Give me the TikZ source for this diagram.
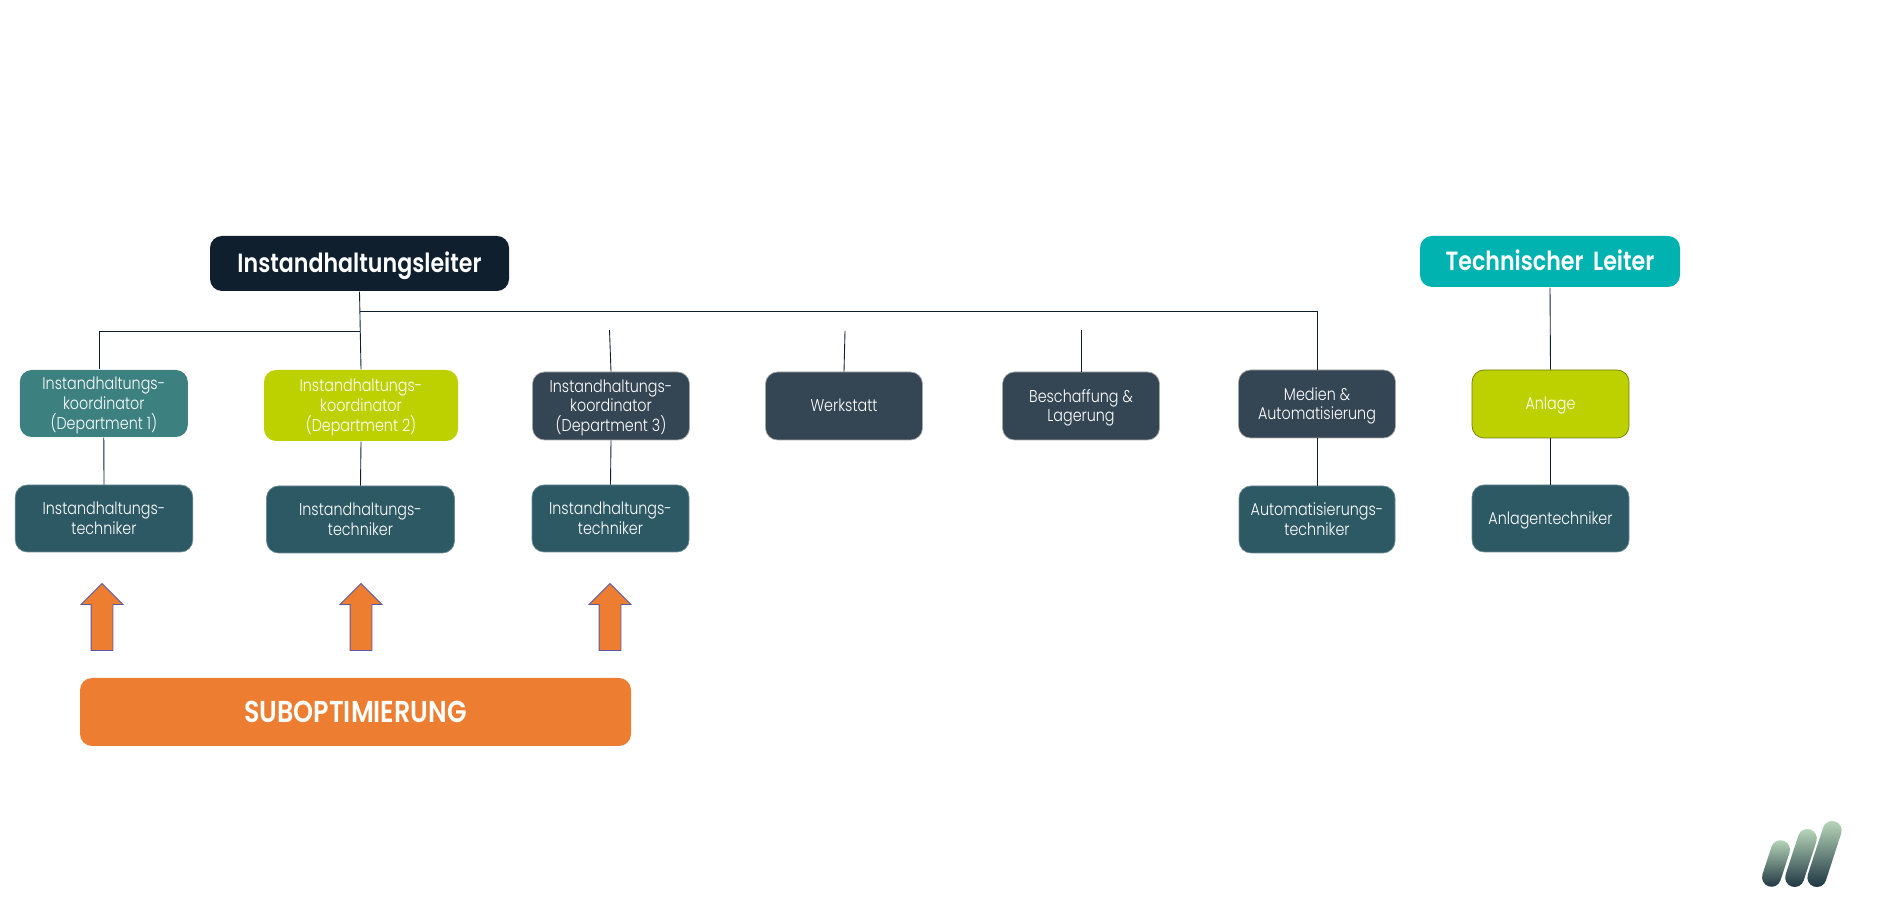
\documentclass[tikz,border=0pt]{standalone}
\usepackage{fontspec}
\setmainfont{Poppins}[FakeStretch=0.84,UprightFont=* Light,BoldFont=* SemiBold]
\usepackage{xcolor}
\usetikzlibrary{shapes,arrows,positioning,calc}
\definecolor{leiterblue}{HTML}{0F1F2E}
\definecolor{koordteal}{HTML}{3C8080}
\definecolor{lime}{HTML}{BDD000}
\definecolor{slate}{HTML}{344554}
\definecolor{techteal}{HTML}{2D5964}
\definecolor{cyanbox}{HTML}{00B2B0}
\definecolor{subopt}{HTML}{ED7D31}
\newcommand{\firstln}{\rule{0pt}{1em}}

\begin{document}
\begin{tikzpicture}[
    box/.style={rounded corners=0.12cm, align=center, text=white, inner sep=0pt, font=\fontsize{4.85}{5.65}\selectfont, execute at begin node={\rule{0pt}{.95em}}, execute at end node={\rule[-.3em]{0pt}{.3em}}},
    unit/.style={box, fill=slate, draw=gray!70, line width=0.2pt, minimum width=1.57cm, minimum height=0.68cm},
    tech/.style={box, fill=techteal, draw=techteal!70, line width=0.2pt, minimum height=0.67cm},
    head/.style={box, font=\fontsize{7.5}{8}\selectfont\bfseries, minimum height=0.55cm, execute at begin node={\rule{0pt}{.99em}}},
    link/.style={line width=0.25pt, draw=leiterblue},
    uparrow/.style={single arrow, draw=blue!30!gray, line width=0.25pt, fill=subopt, rotate=90, minimum height=0.67cm, single arrow head extend=0.10cm, inner xsep=0pt, inner ysep=0.105cm},
    pill/.style={rounded corners=0.095cm, minimum width=0.19cm, inner sep=0pt, rotate=-18, top color=green!30!gray!40, middle color=techteal!75!black, bottom color=leiterblue!70!techteal}
]
    \useasboundingbox (0,0) rectangle (18.82,9.15);

    % Top level
    \node[head, fill=leiterblue, minimum width=2.99cm] (leiter) at (3.595,6.515) {Instandhaltungsleiter};
    \node[head, fill=cyanbox, minimum width=2.60cm, minimum height=0.51cm] (techleiter) at (15.50,6.535) {Technischer \,Leiter};

    % Second row
    \node[box, fill=koordteal, minimum width=1.68cm, minimum height=0.67cm] (koord1) at (1.038,5.115) {\firstln Instandhaltungs-\\koordinator\\(Department 1)};
    \node[box, fill=lime, minimum width=1.94cm, minimum height=0.71cm] (koord2) at (3.61,5.095) {\firstln Instandhaltungs-\\koordinator\\(Department 2)};
    \node[unit] (koord3) at (6.11,5.09) {\firstln Instandhaltungs-\\koordinator\\(Department 3)};
    \node[unit] (werkstatt) at (8.44,5.09) {Werkstatt};
    \node[unit] (beschaffung) at (10.81,5.09) {\firstln Beschaffung \&\\Lagerung};
    \node[unit] (medien) at (13.17,5.11) {\firstln Medien \&\\Automatisierung};
    \node[unit, fill=lime, draw=lime!60!black] (anlage) at (15.505,5.11) {Anlage};

    % Third row
    \node[tech, minimum width=1.775cm] (tech1) at (1.04,3.965) {\firstln Instandhaltungs-\\techniker};
    \node[tech, minimum width=1.88cm] (tech2) at (3.605,3.955) {\firstln Instandhaltungs-\\techniker};
    \node[tech, minimum width=1.57cm] (tech3) at (6.105,3.965) {\firstln Instandhaltungs-\\techniker};
    \node[tech, minimum width=1.56cm] (autotech) at (13.17,3.955) {\firstln Automatisierungs-\\techniker};
    \node[tech, minimum width=1.57cm] (anlagetech) at (15.505,3.965) {Anlagentechniker};

    % Free ends of the short lines
    \coordinate (stub3) at (6.095,5.85);
    \coordinate (stubw) at (8.45,5.84);
    \coordinate (stubb) at (10.81,5.85);

    % Lines
    \draw[link] (leiter.south) -- (koord2.north);
    \draw[link] (leiter.south) ++(0,-0.40) -| ([xshift=-0.04cm]koord1.north);
    \draw[link] (leiter.south) ++(0,-0.20) -| (medien.north);
    \draw[link] (stub3) -- (koord3.north);
    \draw[link] (stubw) -- (werkstatt.north);
    \draw[link] (stubb) -- (beschaffung.north);
    \draw[link] (techleiter.south) -- (anlage.north);
    \draw[link] (koord1.south) -- (tech1.north);
    \draw[link] (koord2.south) -- (tech2.north);
    \draw[link] (koord3.south) -- (tech3.north);
    \draw[link] (medien.south) -- (autotech.north);
    \draw[link] (anlage.south) -- (anlagetech.north);

    % Arrows and bar
    \node[uparrow] (pfeil1) at (1.02,2.925) {};
    \node[uparrow] (pfeil2) at (3.61,2.925) {};
    \node[uparrow] (pfeil3) at (6.10,2.925) {};
    \node[box, fill=subopt, font=\fontsize{8.6}{9}\selectfont\bfseries, minimum width=5.51cm, minimum height=0.68cm, execute at begin node={\rule{0pt}{.99em}}] (suboptbar) at (3.555,2.03) {SUBOPTIMIERUNG};

    % Logo
    \node[pill, minimum height=0.48cm] (logo1) at (17.76,0.515) {};
    \node[pill, minimum height=0.60cm] (logo2) at (18.01,0.57) {};
    \node[pill, minimum height=0.685cm] (logo3) at (18.245,0.61) {};
\end{tikzpicture}
\end{document}
